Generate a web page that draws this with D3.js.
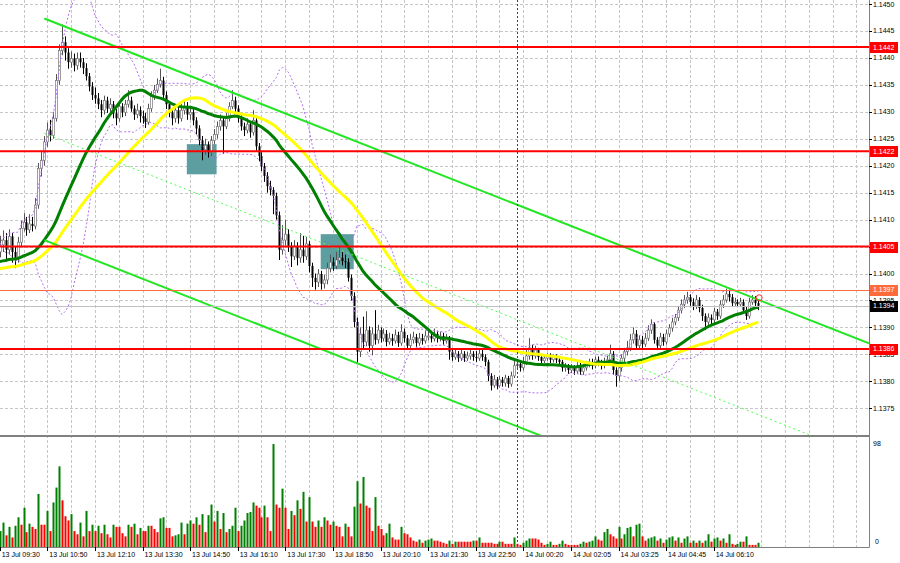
<!DOCTYPE html>
<html>
<head>
<meta charset="utf-8">
<script src="https://cdn.jsdelivr.net/npm/d3@7/dist/d3.min.js"></script>
<style>
html, body { margin:0; padding:0; background:#fff; }
svg { display:block; font-family:"Liberation Sans", Arial, sans-serif; }
</style>
</head>
<body>
<div id="chart"></div>
<script>
// EURUSD M5, 13-14 Jul. one row = 16 bars (one time label)
var firstOpen = 1.14040;

var closes = [
 1.14053,1.14062,1.14044,1.14069,1.14040,1.14029,1.14058,1.14084,1.14095,1.14081,1.14092,1.14088,1.14127,1.14195,1.14210,1.14244,
 1.14266,1.14256,1.14288,1.14358,1.14414,1.14429,1.14410,1.14392,1.14399,1.14386,1.14399,1.14392,1.14381,1.14366,1.14347,1.14331,
 1.14325,1.14314,1.14303,1.14321,1.14306,1.14314,1.14297,1.14288,1.14310,1.14299,1.14314,1.14321,1.14306,1.14295,1.14303,1.14292,
 1.14288,1.14281,1.14306,1.14329,1.14340,1.14351,1.14358,1.14331,1.14314,1.14299,1.14288,1.14303,1.14288,1.14303,1.14310,1.14295,
 1.14299,1.14284,1.14269,1.14247,1.14229,1.14238,1.14225,1.14247,1.14258,1.14273,1.14284,1.14273,1.14288,1.14310,1.14321,1.14306,
 1.14288,1.14273,1.14266,1.14277,1.14262,1.14284,1.14236,1.14218,1.14199,1.14181,1.14162,1.14155,1.14144,1.14108,1.14044,1.14062,
 1.14073,1.14051,1.14032,1.14051,1.14029,1.14044,1.14032,1.14055,1.14014,1.13992,1.13984,1.13999,1.13981,1.13988,1.14010,1.14021,
 1.14014,1.14025,1.14029,1.14023,1.14021,1.13992,1.13958,1.13910,1.13855,1.13888,1.13873,1.13895,1.13866,1.13888,1.13877,1.13895,
 1.13880,1.13888,1.13873,1.13880,1.13875,1.13886,1.13871,1.13892,1.13880,1.13866,1.13877,1.13882,1.13871,1.13880,1.13875,1.13884,
 1.13884,1.13879,1.13888,1.13880,1.13884,1.13875,1.13880,1.13855,1.13845,1.13851,1.13843,1.13851,1.13843,1.13847,1.13851,1.13845,
 1.13843,1.13851,1.13845,1.13836,1.13810,1.13792,1.13803,1.13792,1.13803,1.13797,1.13806,1.13795,1.13810,1.13829,1.13832,1.13825,
 1.13836,1.13847,1.13862,1.13847,1.13858,1.13845,1.13838,1.13843,1.13847,1.13840,1.13845,1.13840,1.13836,1.13825,1.13827,1.13821,
 1.13825,1.13819,1.13829,1.13818,1.13825,1.13831,1.13836,1.13829,1.13840,1.13834,1.13829,1.13836,1.13840,1.13851,1.13821,1.13810,
 1.13825,1.13843,1.13855,1.13862,1.13877,1.13888,1.13866,1.13877,1.13869,1.13880,1.13895,1.13906,1.13877,1.13866,1.13882,1.13873,
 1.13888,1.13899,1.13910,1.13918,1.13932,1.13943,1.13951,1.13956,1.13947,1.13940,1.13951,1.13936,1.13921,1.13910,1.13918,1.13914,
 1.13929,1.13921,1.13942,1.13951,1.13962,1.13956,1.13945,1.13947,1.13943,1.13947,1.13932,1.13921,1.13947,1.13951,1.13945,1.13940
];

var highs = [
 1.14070,1.14080,1.14075,1.14082,1.14075,1.14050,1.14068,1.14098,1.14112,1.14105,1.14110,1.14105,1.14140,1.14205,1.14228,1.14255,
 1.14280,1.14285,1.14300,1.14370,1.14425,1.14462,1.14440,1.14418,1.14412,1.14408,1.14410,1.14410,1.14400,1.14390,1.14372,1.14355,
 1.14345,1.14335,1.14322,1.14330,1.14328,1.14325,1.14320,1.14305,1.14318,1.14316,1.14322,1.14340,1.14328,1.14312,1.14315,1.14310,
 1.14302,1.14298,1.14315,1.14338,1.14350,1.14362,1.14380,1.14365,1.14338,1.14320,1.14305,1.14312,1.14310,1.14315,1.14320,1.14318,
 1.14310,1.14305,1.14290,1.14275,1.14255,1.14250,1.14245,1.14255,1.14268,1.14282,1.14295,1.14290,1.14298,1.14318,1.14340,1.14328,
 1.14312,1.14295,1.14280,1.14288,1.14283,1.14303,1.14290,1.14242,1.14225,1.14205,1.14188,1.14172,1.14160,1.14150,1.14115,1.14090,
 1.14100,1.14082,1.14058,1.14062,1.14058,1.14075,1.14070,1.14068,1.14060,1.14020,1.14000,1.14008,1.14005,1.13998,1.14020,1.14035,
 1.14030,1.14040,1.14050,1.14040,1.14035,1.14028,1.13998,1.13965,1.13918,1.13900,1.13920,1.13930,1.13902,1.13900,1.13932,1.13905,
 1.13900,1.13898,1.13895,1.13890,1.13888,1.13896,1.13892,1.13906,1.13898,1.13886,1.13888,1.13892,1.13888,1.13890,1.13888,1.13894,
 1.13895,1.13890,1.13898,1.13894,1.13892,1.13890,1.13888,1.13884,1.13860,1.13858,1.13856,1.13858,1.13856,1.13855,1.13860,1.13856,
 1.13856,1.13860,1.13858,1.13850,1.13840,1.13815,1.13812,1.13808,1.13810,1.13808,1.13812,1.13810,1.13818,1.13838,1.13840,1.13838,
 1.13845,1.13858,1.13880,1.13868,1.13866,1.13862,1.13850,1.13850,1.13852,1.13852,1.13850,1.13850,1.13846,1.13840,1.13834,1.13832,
 1.13832,1.13830,1.13836,1.13834,1.13832,1.13838,1.13842,1.13842,1.13846,1.13846,1.13840,1.13844,1.13848,1.13868,1.13856,1.13826,
 1.13832,1.13850,1.13862,1.13875,1.13888,1.13900,1.13895,1.13885,1.13884,1.13890,1.13904,1.13915,1.13910,1.13882,1.13890,1.13888,
 1.13896,1.13906,1.13918,1.13925,1.13940,1.13952,1.13960,1.13966,1.13962,1.13954,1.13960,1.13956,1.13942,1.13926,1.13926,1.13924,
 1.13936,1.13934,1.13950,1.13960,1.13972,1.13970,1.13962,1.13955,1.13952,1.13955,1.13952,1.13938,1.13955,1.13960,1.13958,1.13952
];

var lows = [
 1.14030,1.14040,1.14025,1.14035,1.14020,1.14010,1.14020,1.14050,1.14078,1.14070,1.14075,1.14078,1.14082,1.14120,1.14180,1.14200,
 1.14235,1.14245,1.14250,1.14282,1.14350,1.14405,1.14395,1.14380,1.14382,1.14375,1.14378,1.14382,1.14370,1.14358,1.14338,1.14322,
 1.14315,1.14305,1.14290,1.14295,1.14298,1.14300,1.14288,1.14275,1.14282,1.14290,1.14292,1.14308,1.14300,1.14285,1.14288,1.14280,
 1.14278,1.14270,1.14276,1.14300,1.14322,1.14335,1.14345,1.14325,1.14305,1.14290,1.14275,1.14280,1.14278,1.14282,1.14295,1.14285,
 1.14285,1.14275,1.14258,1.14238,1.14210,1.14220,1.14215,1.14218,1.14240,1.14250,1.14265,1.14222,1.14268,1.14282,1.14305,1.14298,
 1.14280,1.14265,1.14255,1.14260,1.14252,1.14256,1.14228,1.14208,1.14190,1.14170,1.14150,1.14145,1.14110,1.14100,1.14025,1.14035,
 1.14052,1.14040,1.14012,1.14025,1.14015,1.14020,1.14020,1.14025,1.14002,1.13975,1.13970,1.13975,1.13970,1.13972,1.13980,1.14002,
 1.14005,1.14008,1.14018,1.14015,1.14010,1.13985,1.13950,1.13900,1.13835,1.13845,1.13860,1.13865,1.13855,1.13848,1.13868,1.13870,
 1.13872,1.13874,1.13865,1.13868,1.13866,1.13870,1.13864,1.13866,1.13872,1.13858,1.13862,1.13870,1.13864,1.13866,1.13868,1.13870,
 1.13876,1.13872,1.13874,1.13872,1.13874,1.13868,1.13870,1.13840,1.13838,1.13840,1.13836,1.13838,1.13836,1.13838,1.13840,1.13838,
 1.13836,1.13838,1.13838,1.13828,1.13800,1.13783,1.13788,1.13785,1.13788,1.13790,1.13790,1.13788,1.13790,1.13806,1.13822,1.13818,
 1.13820,1.13830,1.13840,1.13840,1.13842,1.13838,1.13830,1.13834,1.13838,1.13834,1.13835,1.13834,1.13830,1.13818,1.13818,1.13814,
 1.13815,1.13812,1.13814,1.13812,1.13812,1.13820,1.13826,1.13822,1.13824,1.13828,1.13822,1.13824,1.13830,1.13834,1.13812,1.13790,
 1.13800,1.13818,1.13836,1.13848,1.13856,1.13870,1.13858,1.13860,1.13862,1.13864,1.13875,1.13888,1.13870,1.13858,1.13860,1.13866,
 1.13868,1.13882,1.13892,1.13904,1.13912,1.13926,1.13936,1.13944,1.13940,1.13932,1.13934,1.13928,1.13912,1.13895,1.13904,1.13906,
 1.13908,1.13914,1.13916,1.13936,1.13946,1.13948,1.13938,1.13940,1.13938,1.13938,1.13925,1.13914,1.13916,1.13942,1.13938,1.13932
];

var volumes = [
 15,
 23,11,19,9,20,28,21,37,14,22,19,17,50,21,21,34,
 15,42,56,76,44,29,25,31,15,12,23,10,34,15,21,15,
 20,13,21,12,9,21,19,19,13,10,21,19,22,12,18,15,
 15,20,20,17,14,27,28,18,18,10,11,12,23,12,22,25,
 22,28,21,31,14,30,40,24,34,17,32,14,17,20,37,15,
 20,25,32,33,42,39,37,28,39,28,15,97,40,37,55,37,
 17,34,30,44,36,52,24,47,24,19,25,19,28,25,21,24,
 20,19,10,22,19,10,38,62,41,66,39,37,15,47,20,17,
 11,13,22,9,7,7,19,13,12,9,
 6,5,7,4,6,7,8,6,6,5,4,3,6,
 3,5,5,5,5,5,5,6,6,9,4,4,4,4,3,3,5,5,3,3,3,9,3,2,
 4,6,8,8,8,7,4,2,3,5,2,2,3,6,3,2,2,2,2,3,5,4,5,6,10,7,6,
 14,17,12,10,8,19,8,12,18,19,10,21,22,10,6,8,9,10,6,8,4,
 7,9,10,6,9,4,8,10,4,6,4,6,4,6,12,5,8,9,6,8,4,12,3,2,3,5,5,10,2,2,2,4
];

var timeLabels = ["13 Jul 09:30","13 Jul 10:50","13 Jul 12:10","13 Jul 13:30","13 Jul 14:50",
  "13 Jul 16:10","13 Jul 17:30","13 Jul 18:50","13 Jul 20:10","13 Jul 21:30","13 Jul 22:50",
  "14 Jul 00:20","14 Jul 02:05","14 Jul 03:25","14 Jul 04:45","14 Jul 06:10"];
var labelEvery = 16;
var daySeparatorBar = 174;

var priceTicks = [1.1375,1.1380,1.1385,1.1390,1.1395,1.1400,1.1405,1.1410,1.1415,1.1420,1.1425,1.1430,1.1435,1.1440,1.1445,1.1450];
var levels = [1.1442, 1.14227, 1.1405, 1.1386];
var levelLabels = ["1.1442", "1.1422", "1.1405", "1.1386"];
var askLevel = 1.1397, bidLevel = 1.1394;
var volMax = 98;

// channel lines: [bar, price] pairs
var channelTop = [[15, 1.14473], [245, 1.13973]];
var channelBottom = [[15, 1.14062], [170, 1.13725]];
var channelMid = [[15, 1.14260], [250, 1.13749]];

// signal boxes: [bar from, bar to, price top, price bottom]
var boxes = [[62.9, 72.9, 1.14240, 1.14184], [107.9, 119.0, 1.14073, 1.14008]];
var alertMark = [255.3, 1.13955];

// indicator settings; seeds = price level before the first visible bar
var maFast = 30, maSlow = 50, bbPeriod = 20, bbDev = 2;
var seedFast = 1.14021, seedSlow = 1.14008;

// ---------------------------------------------------------
var W = 900, H = 563;
var axisX = 869, priceBottom = 435, volBottom = 547;

var x = d3.scaleLinear().domain([0, 292]).range([-0.3, 868.4]);
var y = d3.scaleLinear().domain([1.1400, 1.1450]).range([273.5, 4]);
var yv = d3.scaleLinear().domain([0, volMax]).range([volBottom, 443]);

var opens = closes.map(function(c, i) { return i == 0 ? firstOpen : closes[i - 1]; });

function sma(arr, n, seed) {
    return arr.map(function(d, i) {
        var s = arr.slice(Math.max(0, i - n + 1), i + 1);
        return (d3.sum(s) + (n - s.length) * seed) / n;
    });
}
var fast = sma(closes, maFast, seedFast);
var slow = sma(closes, maSlow, seedSlow);
var bbUp = [], bbDn = [];
closes.forEach(function(d, i) {
    var s = closes.slice(Math.max(0, i - bbPeriod + 1), i + 1);
    var m = d3.mean(s);
    var sd = Math.sqrt(d3.mean(s, function(v) { return (v - m) * (v - m); }));
    bbUp.push(m + bbDev * sd);
    bbDn.push(m - bbDev * sd);
});

var svg = d3.select("#chart").append("svg")
    .attr("width", W).attr("height", H)
    .style("background", "#fff");

svg.append("defs").append("clipPath").attr("id", "pclip")
    .append("rect").attr("x", 0).attr("y", 0).attr("width", axisX).attr("height", priceBottom);
svg.select("defs").append("clipPath").attr("id", "vclip")
    .append("rect").attr("x", 0).attr("y", priceBottom + 2).attr("width", axisX).attr("height", volBottom - priceBottom - 2);

// grid
var grid = svg.append("g").attr("stroke", "#c6c6c6").attr("stroke-dasharray", "3,2").attr("stroke-width", 1);
grid.selectAll("line.h").data(priceTicks).enter().append("line")
    .attr("x1", 0).attr("x2", axisX)
    .attr("y1", function(d) { return Math.round(y(d)) + 0.5; })
    .attr("y2", function(d) { return Math.round(y(d)) + 0.5; });
grid.selectAll("line.v").data(d3.range(8, 292, 8)).enter().append("line")
    .attr("y1", 0).attr("y2", volBottom)
    .attr("x1", function(d) { return Math.round(x(d)) + 0.5; })
    .attr("x2", function(d) { return Math.round(x(d)) + 0.5; });

var pg = svg.append("g").attr("clip-path", "url(#pclip)");

// signal boxes
pg.selectAll("rect.box").data(boxes).enter().append("rect")
    .attr("x", function(d) { return x(d[0]); })
    .attr("width", function(d) { return x(d[1]) - x(d[0]); })
    .attr("y", function(d) { return y(d[2]); })
    .attr("height", function(d) { return y(d[3]) - y(d[2]); })
    .style("fill", "#5d9ea0");

// day separator
svg.append("line")
    .attr("x1", Math.round(x(daySeparatorBar)) + 0.5).attr("x2", Math.round(x(daySeparatorBar)) + 0.5)
    .attr("y1", 0).attr("y2", volBottom)
    .attr("stroke", "#444").attr("stroke-dasharray", "2,2");

// candles
var bars = d3.range(closes.length);
pg.selectAll("line.wick").data(bars).enter().append("line")
    .attr("x1", function(i) { return Math.round(x(i)) + 0.5; })
    .attr("x2", function(i) { return Math.round(x(i)) + 0.5; })
    .attr("y1", function(i) { return y(highs[i]); })
    .attr("y2", function(i) { return y(lows[i]); })
    .attr("stroke", function(i) { return closes[i] >= opens[i] ? "#555" : "#000"; })
    .attr("stroke-width", 1);
pg.selectAll("rect.body").data(bars).enter().append("rect")
    .attr("x", function(i) { return Math.round(x(i)) - 0.5; })
    .attr("width", 2)
    .attr("y", function(i) { return y(Math.max(opens[i], closes[i])); })
    .attr("height", function(i) { return Math.max(1, Math.abs(y(opens[i]) - y(closes[i]))); })
    .style("fill", function(i) { return closes[i] >= opens[i] ? "#fff" : "#000"; })
    .style("stroke", function(i) { return closes[i] >= opens[i] ? "#777" : "none"; })
    .style("stroke-width", 0.7);

// bollinger bands
var bbLine = d3.line().x(function(d, i) { return x(i); }).y(function(d) { return y(d); });
[bbUp, bbDn].forEach(function(b) {
    pg.append("path").attr("d", bbLine(b))
        .attr("fill", "none").attr("stroke", "#b06ef0").attr("stroke-width", 1)
        .attr("stroke-dasharray", "2,2");
});

// moving averages
pg.append("path").attr("d", bbLine(fast))
    .attr("fill", "none").attr("stroke", "#008000").attr("stroke-width", 3);
pg.append("path").attr("d", bbLine(slow))
    .attr("fill", "none").attr("stroke", "#ffff00").attr("stroke-width", 3);

// channel
function ray(pts) {
    var x0 = x(pts[0][0]), y0 = y(pts[0][1]), x1 = x(pts[1][0]), y1 = y(pts[1][1]);
    var k = (y1 - y0) / (x1 - x0);
    return [x0, y0, axisX, y0 + k * (axisX - x0)];
}
[[channelTop, 2, null], [channelBottom, 2, null], [channelMid, 1, "2,3"]].forEach(function(c) {
    var r = ray(c[0]);
    pg.append("line").attr("x1", r[0]).attr("y1", r[1]).attr("x2", r[2]).attr("y2", r[3])
        .attr("stroke", c[2] ? "#4cff4c" : "#22e622").attr("stroke-width", c[1])
        .attr("stroke-dasharray", c[2]);
});

// price levels
pg.append("line").attr("x1", 0).attr("x2", axisX)
    .attr("y1", Math.round(y(bidLevel)) + 0.5).attr("y2", Math.round(y(bidLevel)) + 0.5)
    .attr("stroke", "#c0c0c0");
pg.append("line").attr("x1", 0).attr("x2", axisX)
    .attr("y1", Math.round(y(askLevel)) + 0.5).attr("y2", Math.round(y(askLevel)) + 0.5)
    .attr("stroke", "#ff6a3d");
pg.selectAll("line.lvl").data(levels).enter().append("line")
    .attr("x1", 0).attr("x2", axisX)
    .attr("y1", function(d) { return y(d); }).attr("y2", function(d) { return y(d); })
    .attr("stroke", "#ff0000").attr("stroke-width", 2);

pg.append("circle").attr("cx", x(alertMark[0])).attr("cy", y(alertMark[1])).attr("r", 3)
    .attr("fill", "none").attr("stroke", "#ff3030").attr("stroke-width", 1);

// volumes
var vg = svg.append("g").attr("clip-path", "url(#vclip)");
vg.selectAll("rect.vol").data(volumes).enter().append("rect")
    .attr("x", function(d, i) { return Math.round(x(i)) - 0.5; })
    .attr("width", 2)
    .attr("y", function(d) { return yv(d); })
    .attr("height", function(d) { return volBottom - yv(d); })
    .style("fill", function(d, i) { return (i == 0 || d > volumes[i - 1]) ? "#008000" : "#ff0000"; });

// frames
var frame = svg.append("g").attr("stroke", "#808080").attr("fill", "none");
frame.append("line").attr("x1", axisX + 0.5).attr("x2", axisX + 0.5).attr("y1", 0).attr("y2", volBottom + 0.5);
frame.append("line").attr("x1", 0).attr("x2", axisX + 0.5).attr("y1", priceBottom + 1).attr("y2", priceBottom + 1).attr("stroke-width", 2);
frame.append("line").attr("x1", 0).attr("x2", axisX + 0.5).attr("y1", volBottom + 0.5).attr("y2", volBottom + 0.5);

// price axis
var ax = svg.append("g").style("font-size", "7px").style("fill", "#000");
ax.selectAll("text.pt").data(priceTicks).enter().append("text")
    .attr("x", axisX + 4).attr("y", function(d) { return y(d) + 2.5; })
    .text(function(d) { return d.toFixed(4); });
ax.selectAll("line.pt").data(priceTicks).enter().append("line")
    .attr("x1", axisX).attr("x2", axisX + 3)
    .attr("y1", function(d) { return Math.round(y(d)) + 0.5; })
    .attr("y2", function(d) { return Math.round(y(d)) + 0.5; })
    .attr("stroke", "#000");

function priceBox(p, txt, bg) {
    var g = svg.append("g");
    g.append("rect").attr("x", axisX + 1).attr("y", Math.round(y(p)) - 5).attr("width", 28).attr("height", 11)
        .style("fill", bg);
    g.append("text").attr("x", axisX + 4).attr("y", y(p) + 2.5).style("font-size", "7px")
        .style("fill", "#fff").text(txt);
}
levels.forEach(function(l, i) { priceBox(l, levelLabels[i], "#ff0000"); });
priceBox(askLevel, askLevel.toFixed(4), "#ff6a3d");
priceBox(bidLevel, bidLevel.toFixed(4), "#000");

// volume axis
ax.append("text").attr("x", axisX + 4).attr("y", 446).text(volMax);
ax.append("text").attr("x", axisX + 6).attr("y", 544).text("0");

// time axis
var tIdx = timeLabels.map(function(d, i) { return i * labelEvery; });
ax.selectAll("line.tt").data(tIdx).enter().append("line")
    .attr("x1", function(d) { return Math.round(x(d)) + 0.5; })
    .attr("x2", function(d) { return Math.round(x(d)) + 0.5; })
    .attr("y1", volBottom).attr("y2", volBottom + 4)
    .attr("stroke", "#000");
ax.selectAll("text.tt").data(tIdx).enter().append("text")
    .attr("x", function(d) { return x(d) + 2; })
    .attr("y", 557)
    .text(function(d, i) { return timeLabels[i]; });
</script>
</body>
</html>
